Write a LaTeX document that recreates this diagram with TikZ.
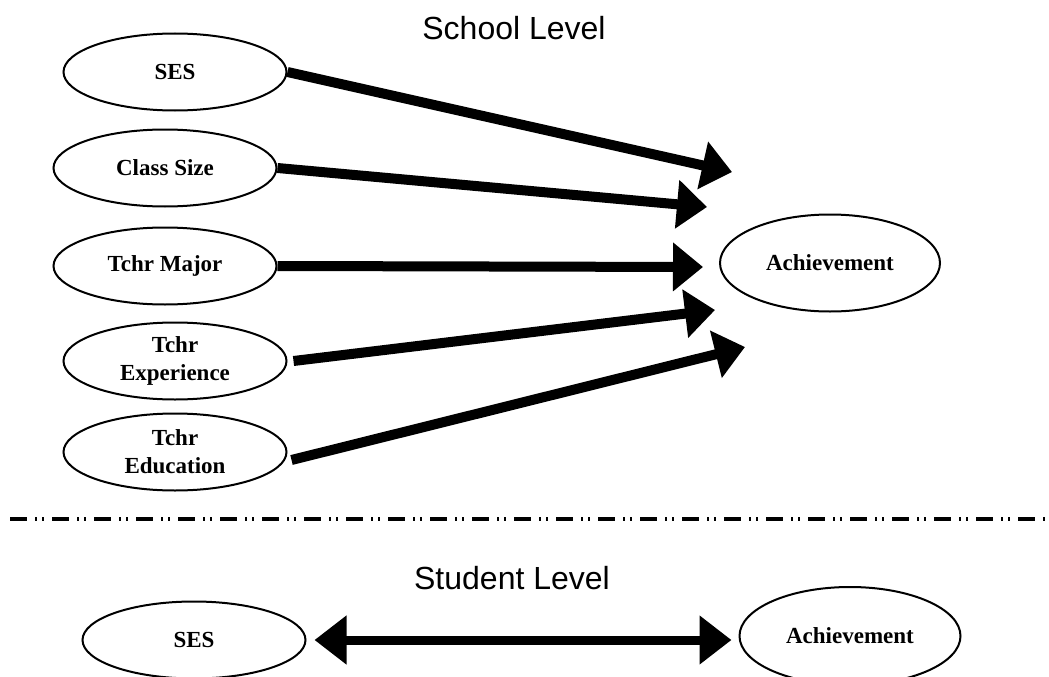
\documentclass[tikz,border=0pt]{standalone}
\usepackage{fontspec}
\setmainfont{Liberation Serif}
\setsansfont{Liberation Sans}
\usetikzlibrary{shapes.geometric,arrows.meta}

\begin{document}
\begin{tikzpicture}[x=1pt,y=-1pt,
  var/.style={draw, ellipse, line width=2pt, inner sep=0pt,
    minimum width=223pt, minimum height=77pt, align=center,
    font=\fontsize{23}{28}\selectfont\bfseries},
  fat/.style={line width=10pt, -{Triangle[length=30pt,width=47pt]}},
  level/.style={anchor=base, font=\fontsize{32}{38}\selectfont\sffamily}]
\useasboundingbox (0,0) rectangle (1049,677);

% school level
\node[level] (schTitle) at (514,40) {School Level};
\node[var] (schSES) at (175,72) {SES};
\node[var] (schClass) at (165,168) {Class Size};
\node[var] (schMajor) at (165,266) {Tchr Major};
\node[var] (schExp) at (175,361) {Tchr\\Experience};
\node[var] (schEdu) at (175,452) {Tchr\\Education};
\node[var, minimum width=220pt, minimum height=97pt] (schAch) at (830,263) {Achievement};

\coordinate (tipSES) at (732,172);
\coordinate (tipClass) at (707,207);
\coordinate (tipMajor) at (703,267);
\coordinate (tipExp) at (715,310);
\coordinate (tipEdu) at (745,347);

\draw[fat] (schSES.east) -- (tipSES);
\draw[fat] (schClass.east) -- (tipClass);
\draw[fat] (schMajor.east) -- (tipMajor);
\draw[fat] ([xshift=6pt]schExp.east) -- (tipExp);
\draw[fat] ([xshift=4pt,yshift=-8pt]schEdu.east) -- (tipEdu);

% separator
\draw[line width=4pt, dash pattern=on 17pt off 8pt on 2pt off 5pt on 2pt off 8pt]
  (10,519) -- (1049,519);

% student level
\node[level] (stuTitle) at (512,589) {Student Level};
\node[var] (stuSES) at (194,640) {SES};
\node[var, minimum width=221pt, minimum height=98pt] (stuAch) at (850,636) {Achievement};

\draw[line width=9pt, {Triangle[length=32pt,width=47pt]}-{Triangle[length=32pt,width=47pt]},
  shorten <=8pt, shorten >=7pt] (stuSES.east) -- (stuAch.west |- stuSES.east);
\end{tikzpicture}
\end{document}
